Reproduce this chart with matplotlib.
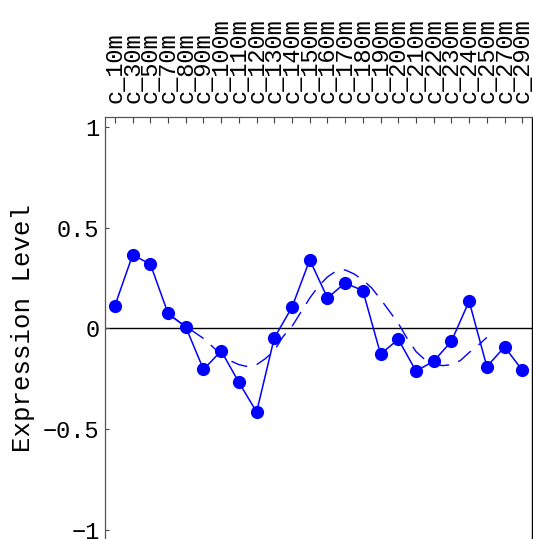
import matplotlib
matplotlib.use("Agg")
import matplotlib.pyplot as plt

# sample labels along the top axis
SAMPLES = ["c_10m", "c_30m", "c_50m", "c_70m", "c_80m", "c_90m", "c_100m", "c_110m",
           "c_120m", "c_130m", "c_140m", "c_150m", "c_160m", "c_170m", "c_180m", "c_190m",
           "c_200m", "c_210m", "c_220m", "c_230m", "c_240m", "c_250m", "c_270m", "c_290m"]

# measured expression per sample
EXPRESSION = [0.113, 0.364, 0.319, 0.074, 0.007, -0.204, -0.112, -0.268,
              -0.415, -0.047, 0.105, 0.340, 0.151, 0.225, 0.187, -0.128,
              -0.054, -0.212, -0.163, -0.064, 0.135, -0.190, -0.092, -0.207]

# dashed fitted curve (x in sample index units)
FIT_X = [4.0, 5.0, 6.0, 6.5, 7.0, 7.5, 8.0, 8.5, 9.0, 9.5, 10.0, 10.5, 11.0, 11.5,
         12.0, 12.5, 13.0, 13.5, 14.0, 14.5, 15.0, 15.5, 16.0, 16.5, 17.0, 17.5,
         18.0, 18.5, 19.0, 19.5, 20.0, 20.5, 21.0, 21.5, 22.0]
FIT_Y = [0.07, 0.01, -0.05, -0.09, -0.13, -0.16, -0.18, -0.19, -0.18, -0.15, -0.11,
         -0.04, 0.01, 0.08, 0.15, 0.21, 0.255, 0.285, 0.29, 0.27, 0.24, 0.20, 0.145,
         0.085, 0.025, -0.05, -0.115, -0.155, -0.175, -0.185, -0.18, -0.16, -0.12,
         -0.085, -0.045]

Y_TICKS = [-1, -0.5, 0, 0.5, 1]
Y_TICK_LABELS = ["-1", "-0.5", "0", "0.5", "1"]

FONT = ["Liberation Mono", "DejaVu Sans Mono"]
BLUE = "#0000ff"

fig = plt.figure(figsize=(5.33, 5.39), dpi=100)
ax = fig.add_axes([105 / 533, 0.0, 427 / 533, 422.3 / 539])

xs = list(range(1, len(SAMPLES) + 1))
ax.axhline(0, color="black", lw=1.0, zorder=1)
ax.plot(FIT_X, FIT_Y, color=BLUE, lw=1.0, dashes=(12, 7), zorder=2)
ax.plot(xs, EXPRESSION, color=BLUE, lw=1.1, marker="o", markersize=9.5,
        markeredgewidth=0, zorder=3)

ax.set_xlim(0.44, 24.55)
ax.set_ylim(-1.045, 1.05)

ax.xaxis.tick_top()
ax.set_xticks(xs)
ax.set_xticklabels(SAMPLES, rotation=90, family=FONT, fontsize=17)
ax.tick_params(axis="x", direction="in", length=4, width=0.8, pad=10, color="#444444")

ax.set_yticks(Y_TICKS)
ax.set_yticklabels([t.replace("-", "\u2212") for t in Y_TICK_LABELS], family=FONT, fontsize=17)
ax.tick_params(axis="y", direction="in", length=3, width=0.8, pad=4, color="#444444")
ax.set_ylabel("Expression Level", family=FONT, fontsize=18.5, labelpad=6)

ax.spines["bottom"].set_visible(False)
for s in ["top", "left"]:
    ax.spines[s].set_color("#555555")
    ax.spines[s].set_linewidth(0.9)
ax.spines["right"].set_color("black")
ax.spines["right"].set_linewidth(1.0)

fig.savefig("out.png", dpi=100)
